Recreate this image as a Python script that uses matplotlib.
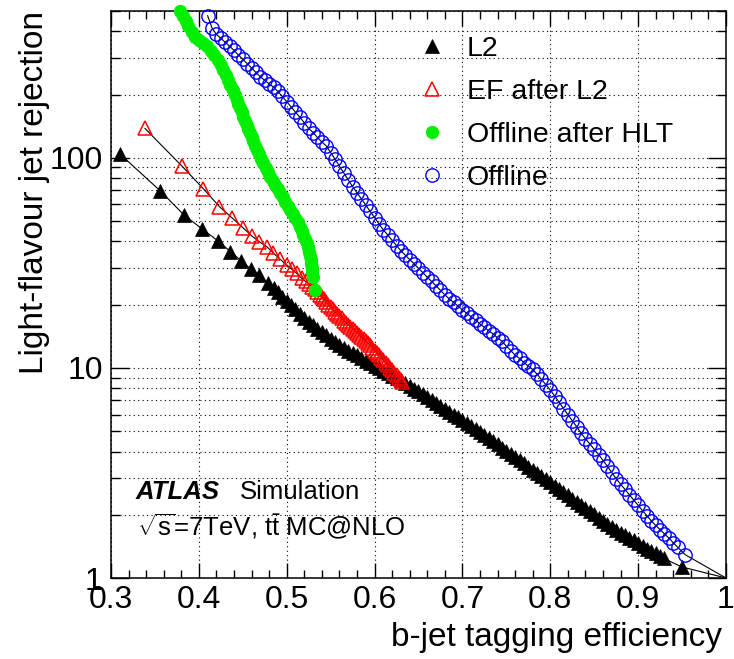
import matplotlib
matplotlib.use('Agg')
import matplotlib.pyplot as plt
from matplotlib.lines import Line2D
from matplotlib.ticker import MultipleLocator, LogLocator, FuncFormatter, NullFormatter

plt.rcParams['font.family'] = ['Liberation Sans', 'DejaVu Sans']
plt.rcParams['mathtext.fontset'] = 'custom'
plt.rcParams['mathtext.rm'] = 'Liberation Sans'
plt.rcParams['mathtext.it'] = 'Liberation Sans:italic'
plt.rcParams['mathtext.bf'] = 'Liberation Sans:bold'

# L2 (filled black triangles), last point (1,1) is line only
l2_eff = [0.310, 0.356, 0.383, 0.404, 0.4215, 0.436, 0.448, 0.4595, 0.469, 0.4785,
          0.485, 0.490, 0.495, 0.500, 0.505, 0.510, 0.515, 0.520, 0.525, 0.530,
          0.535, 0.540, 0.545, 0.550, 0.555, 0.560, 0.565, 0.570, 0.575, 0.580,
          0.585, 0.590, 0.595, 0.600, 0.605, 0.610, 0.615, 0.620, 0.625, 0.630,
          0.635, 0.640, 0.645, 0.650, 0.655, 0.660, 0.665, 0.670, 0.675, 0.680,
          0.685, 0.690, 0.695, 0.700, 0.705, 0.710, 0.715, 0.720, 0.725, 0.730,
          0.735, 0.740, 0.745, 0.750, 0.755, 0.760, 0.765, 0.770, 0.775, 0.780,
          0.785, 0.790, 0.795, 0.800, 0.805, 0.810, 0.815, 0.820, 0.825, 0.830,
          0.835, 0.840, 0.845, 0.850, 0.855, 0.860, 0.865, 0.870, 0.875, 0.880,
          0.885, 0.890, 0.895, 0.900, 0.905, 0.910, 0.915, 0.920, 0.925, 0.929,
          0.9495, 1.0]
l2_rej = [104.5, 69.7, 53.5, 45.8, 40.3, 35.8, 32.4, 29.5, 27.7, 25.4,
          24.1, 22.9, 21.8, 20.8, 19.9, 19.0, 18.1, 17.3, 16.6, 16.0,
          15.4, 14.9, 14.3, 13.8, 13.3, 12.9, 12.5, 12.1, 11.8, 11.5,
          11.1, 10.8, 10.5, 10.2, 9.95, 9.70, 9.44, 9.20, 8.95, 8.73,
          8.49, 8.22, 7.98, 7.73, 7.48, 7.24, 7.03, 6.81, 6.61, 6.40,
          6.19, 6.00, 5.82, 5.64, 5.46, 5.28, 5.13, 4.97, 4.80, 4.63,
          4.48, 4.33, 4.18, 4.04, 3.90, 3.76, 3.63, 3.51, 3.39, 3.27,
          3.16, 3.05, 2.95, 2.85, 2.75, 2.65, 2.56, 2.48, 2.39, 2.31,
          2.23, 2.15, 2.08, 2.01, 1.94, 1.87, 1.81, 1.75, 1.69, 1.64,
          1.60, 1.55, 1.51, 1.47, 1.42, 1.38, 1.34, 1.31, 1.27, 1.24,
          1.13, 1.0]

# EF after L2 (open red triangles)
ef_eff = [0.3387, 0.3805, 0.405, 0.4234, 0.4382, 0.4507, 0.4602, 0.4686, 0.4773, 0.4849,
          0.4925, 0.5001, 0.5058, 0.5114, 0.5171, 0.5215, 0.5255, 0.5290, 0.5320, 0.5350,
          0.5375, 0.5400, 0.5425, 0.5450, 0.5475, 0.5500, 0.5525, 0.5550, 0.5575, 0.5600,
          0.5625, 0.5650, 0.5675, 0.5700, 0.5725, 0.5750, 0.5775, 0.5800, 0.5825, 0.5850,
          0.5875, 0.5900, 0.5925, 0.5950, 0.5975, 0.6000, 0.6025, 0.6050, 0.6075, 0.6100,
          0.6125, 0.6150, 0.6175, 0.6200, 0.6225, 0.6250, 0.6275, 0.6300, 0.6310]
ef_rej = [138, 91.6, 71.4, 58.6, 51.6, 46.3, 42.5, 39.9, 37.8, 35.2,
          32.9, 30.9, 29.5, 28.2, 26.7, 25.8, 25.0, 24.3, 23.7, 22.9,
          22.3, 21.8, 21.2, 20.6, 20.0, 19.5, 19.0, 18.5, 18.0, 17.6,
          17.2, 16.8, 16.4, 16.0, 15.7, 15.4, 15.0, 14.7, 14.3, 14.0,
          13.7, 13.4, 13.1, 12.8, 12.4, 12.1, 11.8, 11.5, 11.2, 10.9,
          10.6, 10.3, 10.0, 9.8, 9.5, 9.3, 9.0, 8.75, 8.6]

# Offline after HLT (filled green circles)
hlt_eff = [0.379, 0.382, 0.385, 0.388, 0.3918, 0.3956, 0.400, 0.4045, 0.409, 0.4134,
           0.4178, 0.4222, 0.4250, 0.4279, 0.4307, 0.4336, 0.4360, 0.4384, 0.4407, 0.4431,
           0.4450, 0.4469, 0.4488, 0.4507, 0.4526, 0.4545, 0.4564, 0.4583, 0.4602, 0.4621,
           0.4641, 0.4660, 0.4685, 0.4710, 0.4735, 0.4760, 0.4785, 0.4810, 0.4839, 0.4868,
           0.4896, 0.4925, 0.4954, 0.4982, 0.5011, 0.5039, 0.5068, 0.5096, 0.5125, 0.5153,
           0.5172, 0.5191, 0.5210, 0.5229, 0.5240, 0.5252, 0.5263, 0.5274, 0.5280, 0.5286,
           0.5291, 0.5297, 0.5323]
hlt_rej = [500, 472, 447, 422, 399, 378, 365, 352, 339, 323,
           308, 293, 277, 262, 248, 235, 222, 210, 200, 189,
           180, 172, 165, 157, 150, 144, 137, 131, 125, 120,
           114, 109, 104, 99.1, 94.4, 89.9, 85.5, 81.5, 77.8, 74.4,
           71.1, 67.9, 64.9, 61.9, 59.2, 56.5, 54.0, 51.5, 49.3, 47.1,
           45.0, 43.0, 41.1, 39.2, 37.5, 35.8, 34.2, 32.7, 31.2, 29.9,
           28.5, 27.2, 23.5]

# Offline (open blue circles), last point (1,1) is line only
off_eff = [0.410, 0.415, 0.420, 0.425, 0.430, 0.435, 0.440, 0.445, 0.450, 0.455,
           0.460, 0.465, 0.470, 0.475, 0.480, 0.485, 0.490, 0.495, 0.500, 0.505,
           0.510, 0.515, 0.520, 0.525, 0.530, 0.535, 0.540, 0.545, 0.550, 0.555,
           0.560, 0.565, 0.570, 0.575, 0.580, 0.585, 0.590, 0.595, 0.600, 0.605,
           0.610, 0.615, 0.620, 0.625, 0.630, 0.635, 0.640, 0.645, 0.650, 0.655,
           0.660, 0.665, 0.670, 0.675, 0.680, 0.685, 0.690, 0.695, 0.700, 0.705,
           0.710, 0.715, 0.720, 0.725, 0.730, 0.735, 0.740, 0.745, 0.750, 0.755,
           0.760, 0.765, 0.770, 0.775, 0.780, 0.785, 0.790, 0.795, 0.800, 0.805,
           0.810, 0.815, 0.820, 0.825, 0.830, 0.835, 0.840, 0.845, 0.850, 0.855,
           0.860, 0.865, 0.870, 0.875, 0.880, 0.885, 0.890, 0.895, 0.900, 0.905,
           0.910, 0.915, 0.920, 0.925, 0.930, 0.935, 0.940, 0.945, 0.9537, 1.0]
off_rej = [475, 415, 387, 371, 355, 340, 325, 309, 295, 281,
           268, 255, 243, 234, 225, 217, 207, 196, 185, 175,
           165, 156, 147, 138, 132, 125, 119, 114, 106, 98.6,
           91.4, 84.7, 78.5, 73.0, 68.2, 63.8, 59.6, 55.6, 52.0, 48.5,
           45.4, 42.9, 40.5, 38.2, 36.1, 34.4, 32.8, 31.3, 29.8, 28.4,
           27.0, 25.8, 24.6, 23.4, 22.3, 21.3, 20.5, 19.7, 18.9, 18.2,
           17.5, 16.9, 16.2, 15.6, 15.0, 14.5, 13.9, 13.4, 12.7, 12.1,
           11.5, 11.1, 10.6, 10.2, 9.84, 9.33, 8.81, 8.32, 7.85, 7.35,
           6.87, 6.41, 6.00, 5.61, 5.25, 4.90, 4.60, 4.35, 4.10, 3.87,
           3.63, 3.40, 3.18, 2.97, 2.80, 2.64, 2.49, 2.35, 2.22, 2.09,
           1.98, 1.87, 1.78, 1.70, 1.62, 1.55, 1.47, 1.40, 1.29, 1.0]

labels = ['L2', 'EF after L2', 'Offline after HLT', 'Offline']
green = '#00ee00'

fig = plt.figure(figsize=(7.34, 6.59), dpi=100)
ax = fig.add_axes([0.1512, 0.1229, 0.8379, 0.8604])

ax.plot(l2_eff, l2_rej, color='black', lw=0.8, marker='^', ms=10, mfc='black', mec='black',
        mew=0.5, markevery=list(range(len(l2_eff) - 1)), clip_on=False, zorder=3)
ax.plot(ef_eff, ef_rej, color='black', lw=0.8, marker='^', ms=10, mfc='none', mec='red',
        mew=1.1, clip_on=False, zorder=4)
ax.plot(hlt_eff, hlt_rej, color='black', lw=0.8, marker='o', ms=9.6, mfc=green, mec=green,
        mew=0, clip_on=False, zorder=5)
ax.plot(off_eff, off_rej, color='black', lw=0.8, marker='o', ms=9.6, mfc='none', mec='blue',
        mew=1.0, markevery=list(range(len(off_eff) - 1)), clip_on=False, zorder=6)

ax.set_xlim(0.3, 1.0)
ax.set_yscale('log')
ax.set_ylim(1, 500)

ax.xaxis.set_major_locator(MultipleLocator(0.1))
ax.xaxis.set_minor_locator(MultipleLocator(0.02))
ax.xaxis.set_major_formatter(FuncFormatter(lambda v, p: '%g' % round(v, 2)))
ax.yaxis.set_major_locator(LogLocator(base=10))
ax.yaxis.set_minor_locator(LogLocator(base=10, subs=range(2, 10)))
ax.yaxis.set_major_formatter(FuncFormatter(lambda v, p: '%g' % v))
ax.yaxis.set_minor_formatter(NullFormatter())

ax.tick_params(axis='x', which='major', direction='in', length=10.8, width=1, top=True,
               labelsize=23, pad=5)
ax.tick_params(axis='x', which='minor', direction='in', length=5.8, width=1, top=True)
ax.tick_params(axis='y', which='major', direction='in', length=13, width=1, right=True,
               labelsize=23, pad=6)
ax.tick_params(axis='y', which='minor', direction='in', length=6.5, width=1, right=True)
for s in ax.spines.values():
    s.set_linewidth(1.1)

ax.set_axisbelow(True)
ax.grid(True, which='major', axis='x', ls=(0, (1, 3)), lw=0.8, color='black')
ax.grid(True, which='both', axis='y', ls=(0, (1, 3)), lw=0.8, color='black')

ax.set_xlabel('b-jet tagging efficiency', fontsize=24, loc='right')
ax.xaxis.set_label_coords(0.9935, -0.077)
ax.set_ylabel('Light-flavour jet rejection', fontsize=24, loc='top')
ax.yaxis.set_label_coords(-0.099, 1.0)

handles = [
    Line2D([], [], ls='none', marker='^', ms=10, mfc='black', mec='black', mew=0.5),
    Line2D([], [], ls='none', marker='^', ms=10, mfc='none', mec='red', mew=1.1),
    Line2D([], [], ls='none', marker='o', ms=9.6, mfc=green, mec=green, mew=0),
    Line2D([], [], ls='none', marker='o', ms=9.6, mfc='none', mec='blue', mew=1.0),
]
ax.legend(handles, labels, loc='upper left', bbox_to_anchor=(0.569, 0.946),
          bbox_transform=fig.transFigure, frameon=False, fontsize=20.5,
          handlelength=1.0, handletextpad=0.72, labelspacing=0.60,
          borderpad=0, borderaxespad=0, numpoints=1)

fig.text(136 / 734, 1 - 499 / 659, 'ATLAS', fontsize=18.5, fontweight='bold',
         fontstyle='italic', va='baseline')
fig.text(240 / 734, 1 - 499 / 659, 'Simulation', fontsize=18.5, va='baseline')
fig.text(137 / 734, 1 - 535 / 659, r'$\sqrt{\mathrm{s}}$=7TeV, t$\bar{\mathrm{t}}$ MC@NLO',
         fontsize=18.5, va='baseline')

fig.savefig('out.png', dpi=100)
